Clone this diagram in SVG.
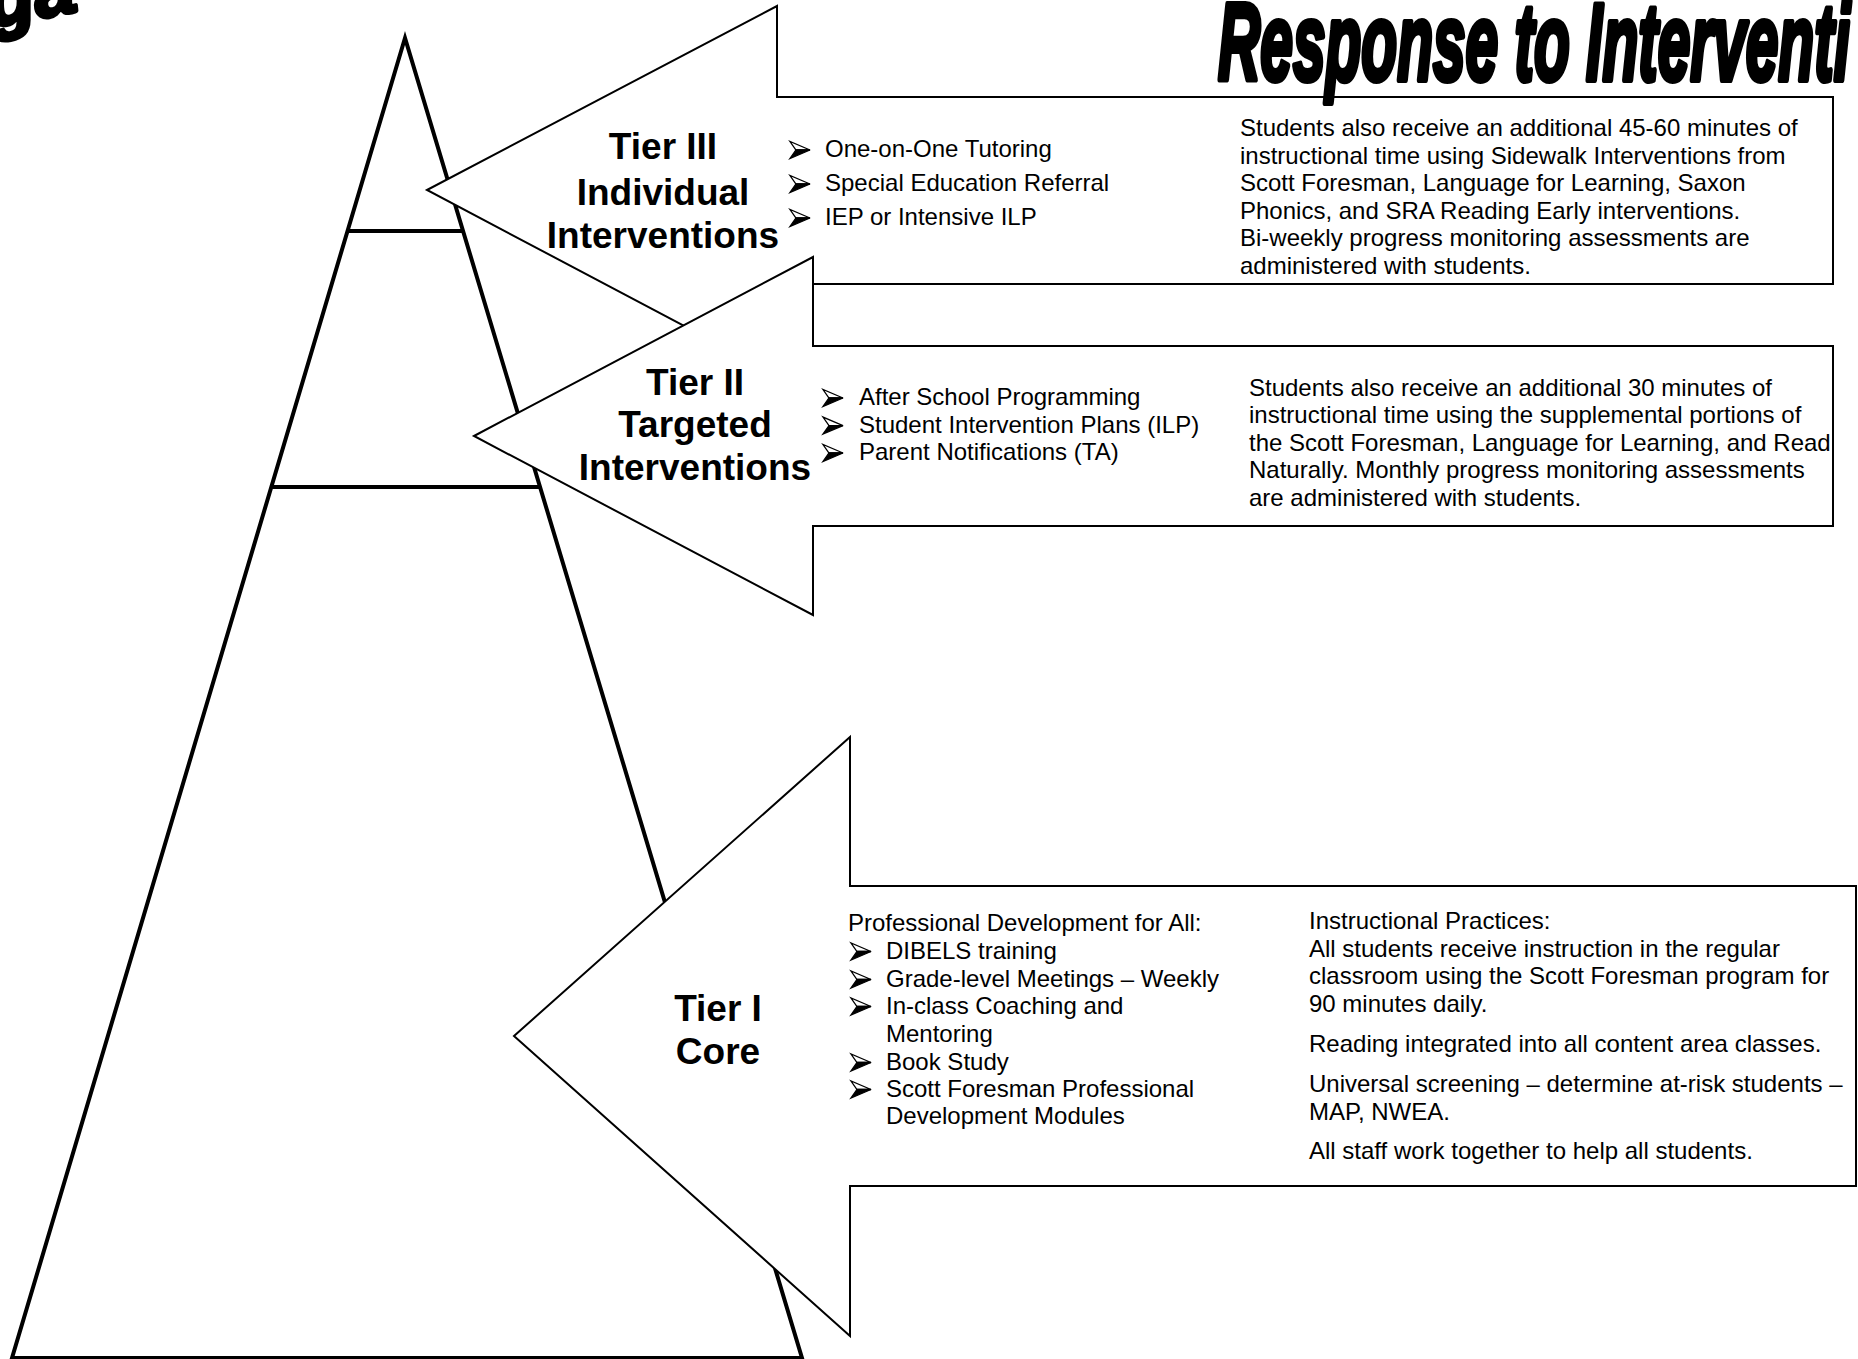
<svg xmlns="http://www.w3.org/2000/svg" width="1858" height="1359" viewBox="0 0 1858 1359">
<style>
.tri{fill:#fff;stroke:#000;stroke-width:4;stroke-linejoin:miter;stroke-miterlimit:20}
.tl{stroke:#000;stroke-width:4}
.arr{fill:#fff;stroke:#000;stroke-width:2;stroke-linejoin:miter;stroke-miterlimit:20}
.t{font-family:"Liberation Sans",Arial,sans-serif;font-size:24px;fill:#000}
.lb{font-family:"Liberation Sans",Arial,sans-serif;font-size:37px;font-weight:bold;fill:#000;text-anchor:middle}
.ttl{font-family:"Liberation Sans",Arial,sans-serif;font-weight:bold;font-style:italic;fill:#000;stroke:#000;stroke-linejoin:round}
</style>
<defs>
<g id="bul">
<polygon points="20,0 0,-8.5 6,0" fill="#fff" stroke="#000" stroke-width="1.3" stroke-linejoin="miter"/>
<polygon points="20,0 6,0 0,8.5" fill="#000" stroke="#000" stroke-width="1.3" stroke-linejoin="miter"/>
</g>
</defs>
<rect width="1858" height="1359" fill="#fff"/>
<g id="pyramid">
<polygon class="tri" points="405,38 12,1358 802,1358"/>
<line class="tl" x1="347" y1="231" x2="464" y2="231"/>
<line class="tl" x1="271" y1="487" x2="541" y2="487"/>
</g>
<g id="connectors"></g>
<g id="tier3">
<polygon class="arr" points="427,190 777,6 777,97 1833,97 1833,284 777,284 777,375"/>
<text class="lb" x="663" y="159">Tier III</text>
<text class="lb" x="663" y="205">Individual</text>
<text class="lb" x="663" y="248">Interventions</text>
<use href="#bul" x="790" y="150"/>
<use href="#bul" x="790" y="184"/>
<use href="#bul" x="790" y="218"/>
<text class="t" x="825" y="157">One-on-One Tutoring</text>
<text class="t" x="825" y="191">Special Education Referral</text>
<text class="t" x="825" y="225">IEP or Intensive ILP</text>
<text class="t" x="1240" y="136">Students also receive an additional 45-60 minutes of</text>
<text class="t" x="1240" y="163.6">instructional time using Sidewalk Interventions from</text>
<text class="t" x="1240" y="191.2">Scott Foresman, Language for Learning, Saxon</text>
<text class="t" x="1240" y="218.8">Phonics, and SRA Reading Early interventions.</text>
<text class="t" x="1240" y="246.4">Bi-weekly progress monitoring assessments are</text>
<text class="t" x="1240" y="274">administered with students.</text>
</g>
<g id="tier2">
<polygon class="arr" points="474,436 813,257 813,346 1833,346 1833,526 813,526 813,615"/>
<text class="lb" x="695" y="395">Tier II</text>
<text class="lb" x="695" y="437">Targeted</text>
<text class="lb" x="695" y="480">Interventions</text>
<use href="#bul" x="823" y="398"/>
<use href="#bul" x="823" y="425.6"/>
<use href="#bul" x="823" y="453"/>
<text class="t" x="859" y="405">After School Programming</text>
<text class="t" x="859" y="432.6">Student Intervention Plans (ILP)</text>
<text class="t" x="859" y="460">Parent Notifications (TA)</text>
<text class="t" x="1249" y="395.5">Students also receive an additional 30 minutes of</text>
<text class="t" x="1249" y="423.1">instructional time using the supplemental portions of</text>
<text class="t" x="1249" y="450.7">the Scott Foresman, Language for Learning, and Read</text>
<text class="t" x="1249" y="478.3">Naturally. Monthly progress monitoring assessments</text>
<text class="t" x="1249" y="505.9">are administered with students.</text>
</g>
<g id="tier1">
<polygon class="arr" points="514,1036 850,737 850,886 1856,886 1856,1186 850,1186 850,1336"/>
<text class="lb" x="718" y="1021">Tier I</text>
<text class="lb" x="718" y="1064">Core</text>
<text class="t" x="848" y="930.5">Professional Development for All:</text>
<use href="#bul" x="851" y="951.5"/>
<use href="#bul" x="851" y="979.5"/>
<use href="#bul" x="851" y="1006.5"/>
<use href="#bul" x="851" y="1062.5"/>
<use href="#bul" x="851" y="1089.5"/>
<text class="t" x="886" y="958.5">DIBELS training</text>
<text class="t" x="886" y="986.5">Grade-level Meetings – Weekly</text>
<text class="t" x="886" y="1013.5">In-class Coaching and</text>
<text class="t" x="886" y="1041.5">Mentoring</text>
<text class="t" x="886" y="1069.5">Book Study</text>
<text class="t" x="886" y="1096.5">Scott Foresman Professional</text>
<text class="t" x="886" y="1123.5">Development Modules</text>
<text class="t" x="1309" y="928.5">Instructional Practices:</text>
<text class="t" x="1309" y="956.5">All students receive instruction in the regular</text>
<text class="t" x="1309" y="983.5">classroom using the Scott Foresman program for</text>
<text class="t" x="1309" y="1011.5">90 minutes daily.</text>
<text class="t" x="1309" y="1051.5">Reading integrated into all content area classes.</text>
<text class="t" x="1309" y="1091.5">Universal screening – determine at-risk students –</text>
<text class="t" x="1309" y="1119.5">MAP, NWEA.</text>
<text class="t" x="1309" y="1158.5">All staff work together to help all students.</text>
</g>
<g id="title">
<text class="ttl" x="1218" y="80" font-size="110" stroke-width="6" textLength="632" lengthAdjust="spacingAndGlyphs">Response to Interventi</text>
<text class="ttl" x="-8" y="26" font-size="76" stroke-width="4" transform="rotate(-11 0 26)">ga</text>
</g>
</svg>
